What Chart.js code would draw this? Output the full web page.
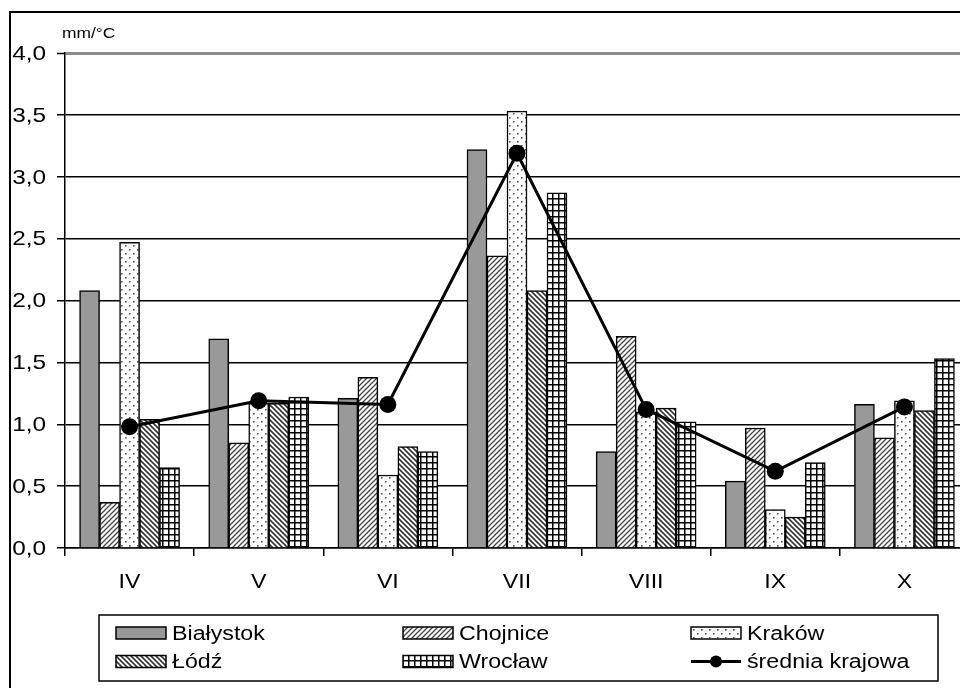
<!DOCTYPE html>
<html>
<head>
<meta charset="utf-8">
<script src="https://cdn.jsdelivr.net/npm/chart.js@4/dist/chart.umd.min.js"></script>
<style>
  html, body { margin: 0; padding: 0; background: #fff; overflow: hidden; }
  #wrap { position: relative; width: 960px; height: 688px; overflow: hidden; }
  #c { position: absolute; left: 0; top: 0; }
</style>
</head>
<body>
<div id="wrap"><canvas id="c" width="985" height="688"></canvas></div>
<script>
// Miesiące okresu wegetacyjnego
const months = ['IV', 'V', 'VI', 'VII', 'VIII', 'IX', 'X'];

// Wartości wskaźnika (mm/°C) dla stacji
const bialystok = [2.08, 1.69, 1.21, 3.22, 0.78, 0.54, 1.16];
const chojnice  = [0.37, 0.85, 1.38, 2.36, 1.71, 0.97, 0.89];
const krakow    = [2.47, 1.17, 0.59, 3.53, 1.10, 0.31, 1.19];
const lodz      = [1.04, 1.17, 0.82, 2.08, 1.13, 0.25, 1.11];
const wroclaw   = [0.65, 1.22, 0.78, 2.87, 1.02, 0.69, 1.53];
const sredniaKrajowa = [0.98, 1.19, 1.16, 3.19, 1.12, 0.62, 1.14];

const yTicks = [0, 0.5, 1, 1.5, 2, 2.5, 3, 3.5, 4];
const seriesNames = ['Białystok', 'Chojnice', 'Kraków', 'Łódź', 'Wrocław', 'średnia krajowa'];
const unitLabel = 'mm/°C';

const FONT = '"Liberation Sans", Arial, sans-serif';
const TEXT_SX = 1.16; // horizontal widening of the lettering

// ---- fill patterns -------------------------------------------------
function makeTile(size, draw) {
  const c = document.createElement('canvas');
  c.width = size; c.height = size;
  const g = c.getContext('2d');
  g.fillStyle = '#fff';
  g.fillRect(0, 0, size, size);
  draw(g, size);
  return c;
}
function diagonal(color, width, forward) {
  return (g, s) => {
    g.strokeStyle = color; g.lineWidth = width; g.beginPath();
    if (forward) {
      g.moveTo(-1, s + 1); g.lineTo(s + 1, -1);
      g.moveTo(-1, 1); g.lineTo(1, -1);
      g.moveTo(s - 1, s + 1); g.lineTo(s + 1, s - 1);
    } else {
      g.moveTo(-1, -1); g.lineTo(s + 1, s + 1);
      g.moveTo(s - 1, -1); g.lineTo(s + 1, 1);
      g.moveTo(-1, s - 1); g.lineTo(1, s + 1);
    }
    g.stroke();
  };
}
const ctx2d = document.getElementById('c').getContext('2d');
const tiles = {
  slash: makeTile(5, diagonal('#444', 1.3, true)),
  dots: makeTile(8, (g) => {
    g.fillStyle = '#555';
    g.fillRect(1, 1, 1.6, 1.6);
    g.fillRect(5, 5, 1.6, 1.6);
  }),
  backslash: makeTile(5, diagonal('#333', 1.6, false)),
  grid: makeTile(6, (g) => {
    g.fillStyle = '#000';
    g.fillRect(0, 0, 6, 1.5);
    g.fillRect(0, 0, 1.5, 6);
  })
};
const fills = [
  '#999999',
  ctx2d.createPattern(tiles.slash, 'repeat'),
  ctx2d.createPattern(tiles.dots, 'repeat'),
  ctx2d.createPattern(tiles.backslash, 'repeat'),
  ctx2d.createPattern(tiles.grid, 'repeat')
];

function wideText(g, text, x, y, align) {
  g.save();
  g.translate(x, y);
  g.scale(TEXT_SX, 1);
  g.textAlign = align;
  g.fillText(text, 0, 0);
  g.restore();
}

// ---- frame, axis labels, unit label and legend ---------------------
const decor = {
  id: 'decor',
  beforeDraw(chart) {
    const g = chart.ctx;
    g.save();
    g.fillStyle = '#fff';
    g.fillRect(0, 0, chart.width, chart.height);
    g.strokeStyle = '#000';
    g.lineWidth = 2;
    g.beginPath();
    g.moveTo(10, chart.height + 2);
    g.lineTo(10, 12);
    g.lineTo(chart.width + 2, 12);
    g.stroke();
    g.restore();
  },
  afterDraw(chart) {
    const g = chart.ctx;
    const xs = chart.scales.x, ys = chart.scales.y;
    g.save();
    g.fillStyle = '#000';
    g.textBaseline = 'middle';

    // value axis labels
    g.font = '21px ' + FONT;
    ys.ticks.forEach(t => {
      wideText(g, t.value.toFixed(1).replace('.', ','), 46, ys.getPixelForValue(t.value) + 1, 'right');
    });
    // month labels
    g.font = '20px ' + FONT;
    months.forEach((m, i) => {
      wideText(g, m, xs.getPixelForTick(i), 582, 'center');
    });

    // unit
    g.font = '15px ' + FONT;
    g.textBaseline = 'alphabetic';
    wideText(g, unitLabel, 62, 38, 'left');

    // legend box
    const box = { x: 99, y: 615, w: 839, h: 66 };
    g.strokeStyle = '#000';
    g.lineWidth = 1.5;
    g.strokeRect(box.x, box.y, box.w, box.h);

    const colX = [116, 403, 691];
    const rowY = [633, 661.5];
    g.font = '20px ' + FONT;
    g.textBaseline = 'middle';
    seriesNames.forEach((name, i) => {
      const x = colX[i % 3];
      const cy = rowY[Math.floor(i / 3)];
      if (i < 5) {
        g.fillStyle = fills[i];
        g.fillRect(x, cy - 6, 50, 12);
        g.strokeStyle = '#000';
        g.lineWidth = 1.5;
        g.strokeRect(x, cy - 6, 50, 12);
      } else {
        g.strokeStyle = '#000';
        g.lineWidth = 3;
        g.beginPath();
        g.moveTo(x, cy); g.lineTo(x + 50, cy);
        g.stroke();
        g.fillStyle = '#000';
        g.beginPath();
        g.arc(x + 25, cy, 6, 0, Math.PI * 2);
        g.fill();
      }
      g.fillStyle = '#000';
      wideText(g, name, x + 56, cy + 1, 'left');
    });
    g.restore();
  }
};

const barSets = [bialystok, chojnice, krakow, lodz, wroclaw].map((data, i) => ({
  type: 'bar',
  label: seriesNames[i],
  data: data,
  backgroundColor: fills[i],
  borderColor: '#000',
  borderWidth: 1.5,
  barThickness: 20,
  categoryPercentage: 1,
  order: 1
}));

new Chart(document.getElementById('c'), {
  data: {
    labels: months,
    datasets: [
      ...barSets,
      {
        type: 'line',
        label: seriesNames[5],
        data: sredniaKrajowa,
        borderColor: '#000',
        borderWidth: 3,
        pointRadius: 8.5,
        pointBackgroundColor: '#000',
        pointBorderWidth: 0,
        tension: 0,
        order: 0
      }
    ]
  },
  options: {
    responsive: false,
    animation: false,
    devicePixelRatio: 1,
    layout: { padding: { left: 0, right: 16, top: 53, bottom: 95 } },
    plugins: { legend: { display: false }, tooltip: { enabled: false } },
    scales: {
      x: {
        offset: true,
        grid: { drawOnChartArea: false, drawTicks: true, tickLength: 8, color: '#000', lineWidth: 1.5, offset: true },
        border: { color: '#000', width: 1.5 },
        ticks: { display: false },
        afterFit(s) { s.height = 45; }
      },
      y: {
        min: 0, max: 4,
        afterBuildTicks(s) { s.ticks = yTicks.map(v => ({ value: v })); },
        ticks: { display: false },
        grid: {
          color: c => (c.tick && c.tick.value === 4) ? '#8c8c8c' : '#000',
          lineWidth: c => (c.tick && c.tick.value === 4) ? 3 : 1.5,
          tickColor: '#000', tickWidth: 1.5, tickLength: 8
        },
        border: { color: '#000', width: 1.5 },
        afterFit(s) { s.width = 65; }
      }
    }
  },
  plugins: [decor]
});
</script>
</body>
</html>
